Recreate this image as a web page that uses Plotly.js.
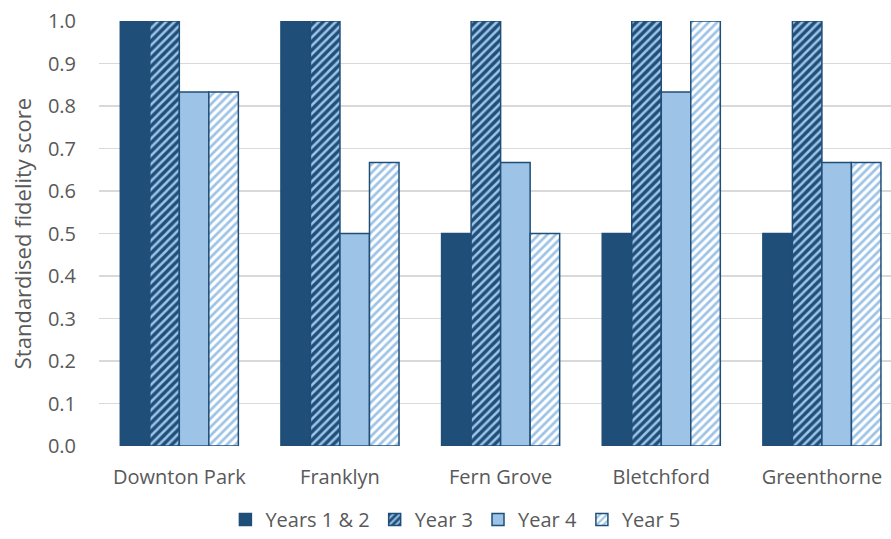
<!DOCTYPE html>
<html>
<head>
<meta charset="utf-8">
<script src="https://cdn.plot.ly/plotly-3.0.1.min.js"></script>
<style>
  html, body { margin: 0; padding: 0; background: #ffffff; }
  #chart { width: 891px; height: 539px; }
</style>
</head>
<body>
<div id="chart"></div>
<script>
// Schools and scores per year group
const schools = ["Downton Park", "Franklyn", "Fern Grove", "Bletchford", "Greenthorne"];
const years12 = [1.0, 1.0, 0.5, 0.5, 0.5];
const year3   = [1.0, 1.0, 1.0, 1.0, 1.0];
const year4   = [0.833, 0.5, 0.667, 0.833, 0.667];
const year5   = [0.833, 0.667, 0.5, 1.0, 0.667];
const yTicks  = [0, 0.1, 0.2, 0.3, 0.4, 0.5, 0.6, 0.7, 0.8, 0.9, 1.0];

const DARK = "#1F4E79";
const LIGHT = "#9DC3E6";
const TEXT = "#595959";
const FONT = "Open Sans, sans-serif";

const outline = { color: DARK, width: 1.5 };

const traces = [
  {
    type: "bar", name: "Years 1 & 2", x: schools, y: years12,
    marker: { color: DARK, line: outline }
  },
  {
    type: "bar", name: "Year 3", x: schools, y: year3,
    marker: {
      color: DARK, line: outline,
      pattern: { shape: "/", bgcolor: DARK, fgcolor: LIGHT, size: 6, solidity: 0.42, fillmode: "replace" }
    }
  },
  {
    type: "bar", name: "Year 4", x: schools, y: year4,
    marker: { color: LIGHT, line: outline }
  },
  {
    type: "bar", name: "Year 5", x: schools, y: year5,
    marker: {
      color: "#ffffff", line: outline,
      pattern: { shape: "/", bgcolor: "#ffffff", fgcolor: LIGHT, size: 6, solidity: 0.45, fillmode: "replace" }
    }
  }
];

const layout = {
  width: 891, height: 539,
  margin: { l: 99, r: 0, t: 21, b: 93, autoexpand: false },
  paper_bgcolor: "#ffffff", plot_bgcolor: "#ffffff",
  font: { family: FONT, size: 20, color: TEXT },
  barmode: "group",
  bargap: 0.265,
  bargroupgap: 0,
  showlegend: true,
  legend: {
    orientation: "h", x: 0.45, xanchor: "center", xref: "paper",
    y: 0.0, yanchor: "bottom", yref: "container",
    font: { family: FONT, size: 20, color: TEXT },
    traceorder: "normal", itemwidth: 30, tracegroupgap: 0
  },
  xaxis: {
    type: "category",
    range: [-0.5, 4.43],
    automargin: false,
    showgrid: false, showline: false, zeroline: false,
    ticks: "", ticklabelstandoff: 17,
    tickfont: { family: FONT, size: 20, color: TEXT }
  },
  yaxis: {
    range: [0, 1.0],
    automargin: false,
    tickvals: yTicks, tickformat: ".1f",
    showgrid: true, gridcolor: "#D9D9D9", gridwidth: 1.3,
    zeroline: false, showline: false, ticks: "",
    ticklabelstandoff: 22,
    tickfont: { family: FONT, size: 20, color: TEXT },
    title: { text: "Standardised fidelity score", font: { family: FONT, size: 22, color: TEXT }, standoff: 10 }
  }
};

Plotly.newPlot("chart", traces, layout, { displayModeBar: false, staticPlot: true });
</script>
</body>
</html>
